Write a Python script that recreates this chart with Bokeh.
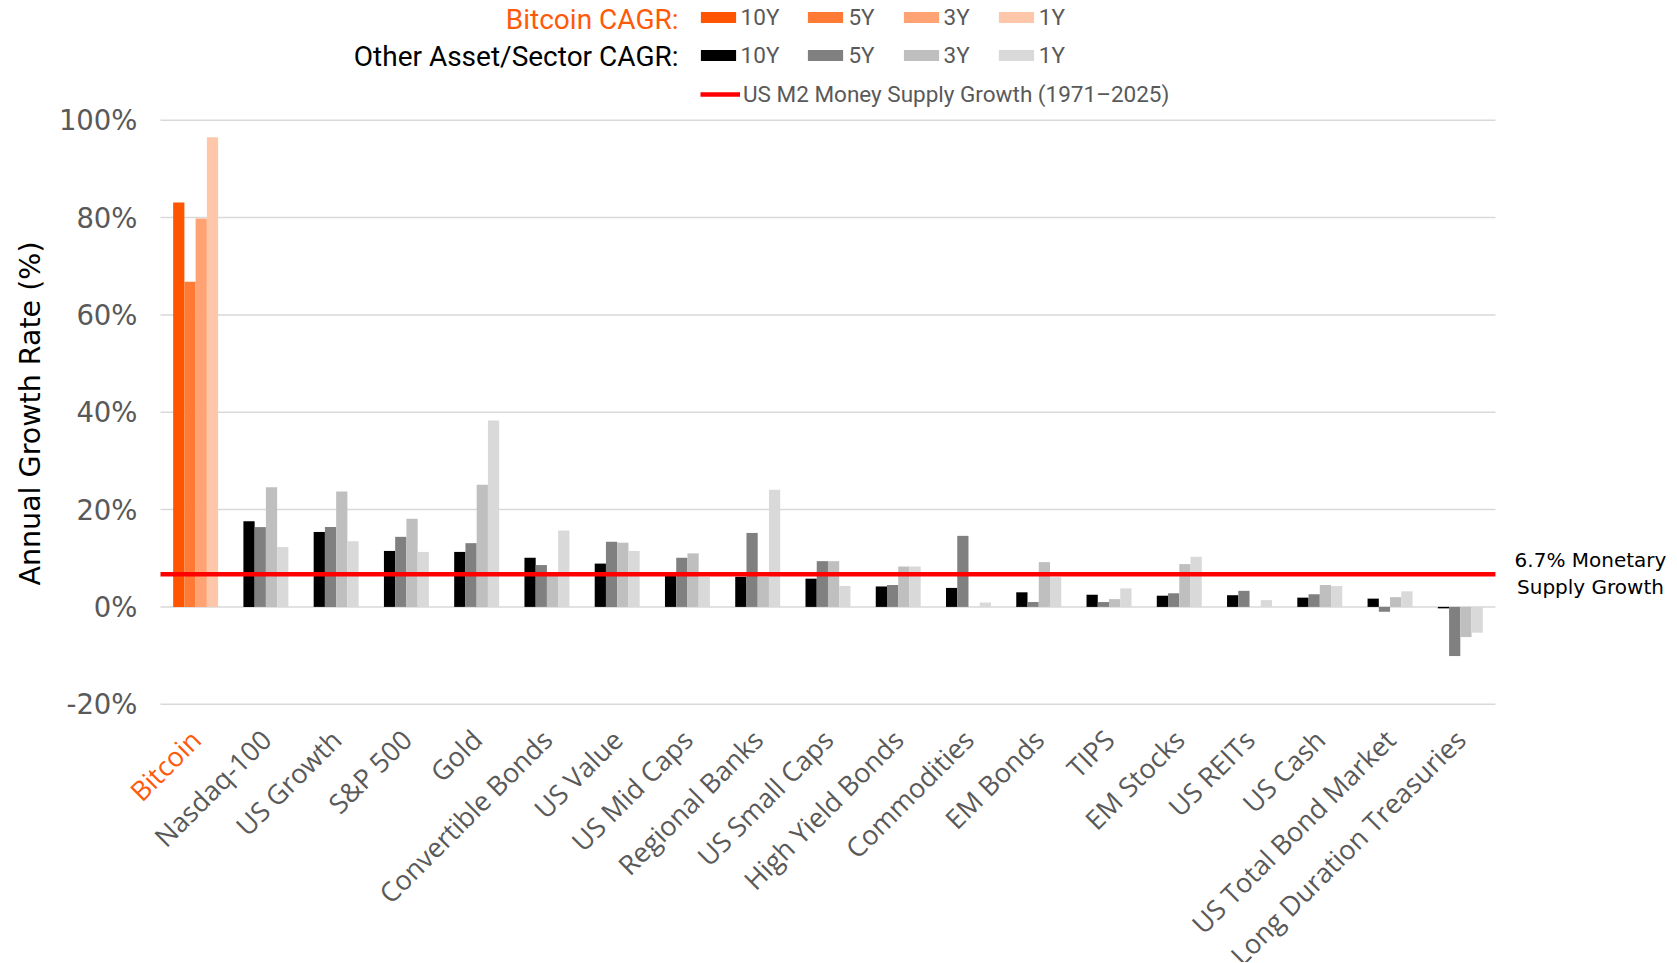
import math
from bokeh.plotting import figure
from bokeh.models import ColumnDataSource, Range1d, Legend, LegendItem, Label, LabelSet
from bokeh.transform import dodge
from bokeh.core.properties import value
from bokeh.embed import file_html
from bokeh.resources import INLINE

# ---------------- data ----------------
categories = ["Bitcoin", "Nasdaq-100", "US Growth", "S&P 500", "Gold", "Convertible Bonds",
              "US Value", "US Mid Caps", "Regional Banks", "US Small Caps", "High Yield Bonds",
              "Commodities", "EM Bonds", "TIPS", "EM Stocks", "US REITs", "US Cash",
              "US Total Bond Market", "Long Duration Treasuries"]
cagr_10y = [83.1, 17.6, 15.4, 11.5, 11.3, 10.1, 8.9, 6.4, 6.2, 5.8, 4.2, 3.9, 3.0, 2.5, 2.3, 2.4, 1.9, 1.7, -0.3]
cagr_5y = [66.8, 16.4, 16.4, 14.4, 13.1, 8.6, 13.4, 10.1, 15.2, 9.4, 4.5, 14.6, 1.0, 1.0, 2.8, 3.3, 2.6, -1.0, -10.1]
cagr_3y = [79.8, 24.6, 23.7, 18.1, 25.1, 6.4, 13.2, 11.0, 6.2, 9.4, 8.3, 0.0, 9.2, 1.6, 8.8, 0.0, 4.5, 2.0, -6.2]
cagr_1y = [96.5, 12.3, 13.5, 11.3, 38.3, 15.7, 11.5, 6.2, 24.1, 4.3, 8.3, 0.9, 6.1, 3.8, 10.3, 1.4, 4.3, 3.2, -5.3]
periods = ["10Y", "5Y", "3Y", "1Y"]
m2_growth = 6.7
m2_label = "US M2 Money Supply Growth (1971\u20132025)"
y_ticks = [-20, 0, 20, 40, 60, 80, 100]
y_title = "Annual Growth Rate (%)"

# ---------------- style / layout ----------------
BTC_COLORS = ["#FF5500", "#FF7A35", "#FFA374", "#FFC7AA"]
OTHER_COLORS = ["#000000", "#808080", "#BFBFBF", "#D9D9D9"]
BTC_TEXT = "#FF5A0A"
GRAY_TEXT = "#595959"
OFFSETS = [-0.24, -0.08, 0.08, 0.24]
BAR_W = 0.16

W, H = 1676, 962
PLOT_L = 160           # px of the plotting area's left edge
CAT_W = 70.26          # px per category
ZERO_PX = 606.4        # px of the 0 % line
PX_PER_PCT = 4.866     # px per percentage point


def px2x(px):
    return (px - PLOT_L) / CAT_W


def px2y(py):
    return (ZERO_PX - py) / PX_PER_PCT


x_pos = [i + 0.5 for i in range(len(categories))]
cols = {"y10": cagr_10y, "y5": cagr_5y, "y3": cagr_3y, "y1": cagr_1y}
btc_src = ColumnDataSource(dict(x=x_pos[:1], cat=categories[:1], **{k: v[:1] for k, v in cols.items()}))
oth_src = ColumnDataSource(dict(x=x_pos[1:], cat=categories[1:], **{k: v[1:] for k, v in cols.items()}))

p = figure(x_range=Range1d(px2x(0), px2x(W)), y_range=Range1d(px2y(H), px2y(0)),
           width=W, height=H, output_backend="svg", toolbar_location=None, title=None,
           min_border=0, x_axis_type=None, y_axis_type=None)
p.outline_line_color = None
p.grid.visible = False

# horizontal grid lines spanning the categories
p.segment(x0=0, x1=len(categories), y0=y_ticks, y1=y_ticks, line_color="#D9D9D9", line_width=1.5)

keys = ["y10", "y5", "y3", "y1"]
btc_r, oth_r = [], []
for k, off, cb, co in zip(keys, OFFSETS, BTC_COLORS, OTHER_COLORS):
    btc_r.append(p.vbar(x=dodge("x", off), top=k, width=BAR_W, source=btc_src,
                        fill_color=cb, line_color=None))
    oth_r.append(p.vbar(x=dodge("x", off), top=k, width=BAR_W, source=oth_src,
                        fill_color=co, line_color=None))

m2_r = p.line(x=[0, len(categories)], y=[m2_growth, m2_growth], line_color="#FF0000", line_width=4.5)

# y tick labels and title
tick_src = ColumnDataSource(dict(y=y_ticks, text=[f"{t}%" for t in y_ticks]))
p.add_layout(LabelSet(x=px2x(137), y="y", text="text", source=tick_src, text_align="right",
                      text_baseline="middle", text_font=value("DejaVu Sans"),
                      text_font_size="27.5px", text_color=GRAY_TEXT))
p.add_layout(Label(x=px2x(30), y=px2y(413), text=y_title, angle=math.pi / 2,
                   text_align="center", text_baseline="middle", text_font="DejaVu Sans",
                   text_font_size="28.5px", text_color="#000000"))

# category labels
lab_src = ColumnDataSource(dict(x=x_pos, cat=categories,
                                color=[BTC_TEXT if c == "Bitcoin" else GRAY_TEXT for c in categories]))
p.add_layout(LabelSet(x="x", y=px2y(734), text="cat", source=lab_src, x_offset=0,
                      angle=math.pi / 4, text_align="right", text_baseline="middle",
                      text_font=value("Open Sans"), text_font_size="27px", text_color="color"))

# legends
common = dict(orientation="horizontal", padding=0, margin=0, border_line_color=None,
              background_fill_alpha=0, label_text_font="Roboto", label_text_font_size="22.5px",
              label_text_color=GRAY_TEXT, glyph_height=14)
row_h = 26
leg1 = Legend(items=[LegendItem(label=l, renderers=[r]) for l, r in zip(periods, btc_r)],
              location=(700 - 4.4, H - 16.5 - row_h / 2),
              glyph_width=44, label_standoff=1, spacing=24, **common)
leg2 = Legend(items=[LegendItem(label=l, renderers=[r]) for l, r in zip(periods, oth_r)],
              location=(700 - 4.4, H - 54.5 - row_h / 2),
              glyph_width=44, label_standoff=1, spacing=24, **common)
leg3 = Legend(items=[LegendItem(label=m2_label, renderers=[m2_r])],
              location=(700, H - 94 - row_h / 2),
              glyph_width=40, label_standoff=3, spacing=0, **common)
for lg in (leg1, leg2, leg3):
    p.add_layout(lg, "center")

p.add_layout(Label(x=px2x(678), y=px2y(19), text="Bitcoin CAGR:", text_align="right",
                   text_baseline="middle", text_font="Roboto", text_font_size="28px",
                   text_color=BTC_TEXT))
p.add_layout(Label(x=px2x(678), y=px2y(56), text="Other Asset/Sector CAGR:", text_align="right",
                   text_baseline="middle", text_font="Roboto", text_font_size="28px",
                   text_color="#000000"))
p.add_layout(Label(x=px2x(1590), y=px2y(559), text="6.7% Monetary", text_align="center",
                   text_baseline="middle", text_font="DejaVu Sans", text_font_size="20px",
                   text_color="#000000"))
p.add_layout(Label(x=px2x(1590), y=px2y(586), text="Supply Growth", text_align="center",
                   text_baseline="middle", text_font="DejaVu Sans", text_font_size="20px",
                   text_color="#000000"))

open("out.html", "w").write(file_html(p, INLINE))
